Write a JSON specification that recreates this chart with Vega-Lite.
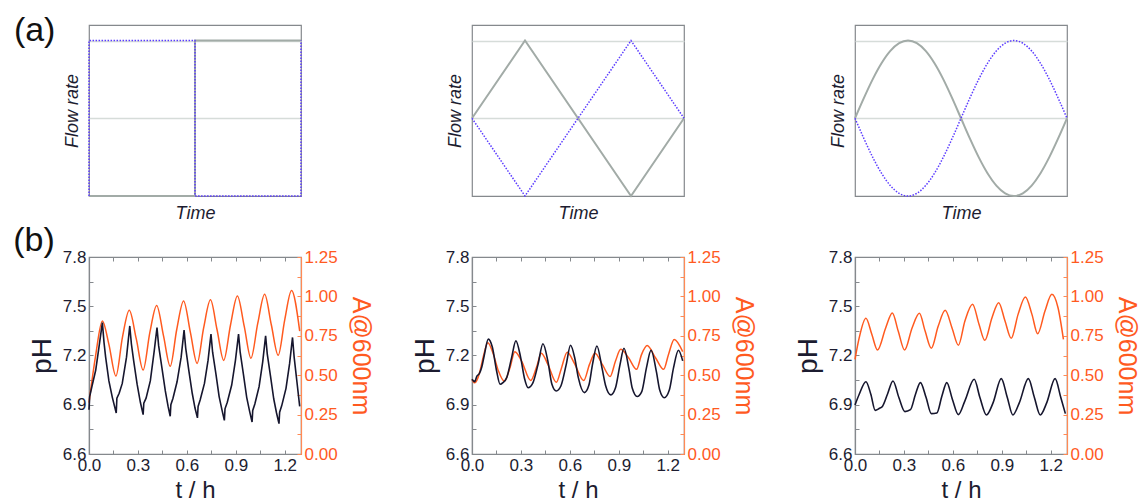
{
  "$schema": "https://vega.github.io/schema/vega-lite/v6.json",
  "background": "white",
  "padding": {"left": 12, "top": 13, "right": 2, "bottom": 0},
  "bounds": "flush",
  "columns": 3,
  "spacing": {"row": 61, "column": 171},
  "config": {
    "view": {"stroke": "#85898d", "strokeWidth": 1.2},
    "font": "Liberation Sans",
    "axis": {"labelFont": "Liberation Sans", "titleFont": "Liberation Sans", "titleFontWeight": "normal"}
  },
  "datasets": {
    "sqG": [{"i":0,"x":0,"y":-1},{"i":1,"x":0.5,"y":-1},{"i":2,"x":0.5,"y":1},{"i":3,"x":1,"y":1}],
    "sqB": [{"i":0,"x":0,"y":-1},{"i":1,"x":0,"y":1},{"i":2,"x":0.5,"y":1},{"i":3,"x":0.5,"y":-1},{"i":4,"x":1,"y":-1},{"i":5,"x":1,"y":1}],
    "triG": [{"i":0,"x":0,"y":0},{"i":1,"x":0.25,"y":1},{"i":2,"x":0.75,"y":-1},{"i":3,"x":1,"y":0}],
    "triB": [{"i":0,"x":0,"y":0},{"i":1,"x":0.25,"y":-1},{"i":2,"x":0.75,"y":1},{"i":3,"x":1,"y":0}],
    "sinG": [{"i":0,"x":0,"y":0},{"i":1,"x":0.0417,"y":0.259},{"i":2,"x":0.0833,"y":0.5},{"i":3,"x":0.125,"y":0.707},{"i":4,"x":0.1667,"y":0.866},{"i":5,"x":0.2083,"y":0.966},{"i":6,"x":0.25,"y":1},{"i":7,"x":0.2917,"y":0.966},{"i":8,"x":0.3333,"y":0.866},{"i":9,"x":0.375,"y":0.707},{"i":10,"x":0.4167,"y":0.5},{"i":11,"x":0.4583,"y":0.259},{"i":12,"x":0.5,"y":0},{"i":13,"x":0.5417,"y":-0.259},{"i":14,"x":0.5833,"y":-0.5},{"i":15,"x":0.625,"y":-0.707},{"i":16,"x":0.6667,"y":-0.866},{"i":17,"x":0.7083,"y":-0.966},{"i":18,"x":0.75,"y":-1},{"i":19,"x":0.7917,"y":-0.966},{"i":20,"x":0.8333,"y":-0.866},{"i":21,"x":0.875,"y":-0.707},{"i":22,"x":0.9167,"y":-0.5},{"i":23,"x":0.9583,"y":-0.259},{"i":24,"x":1,"y":0}],
    "sinB": [{"i":0,"x":0,"y":0},{"i":1,"x":0.0417,"y":-0.259},{"i":2,"x":0.0833,"y":-0.5},{"i":3,"x":0.125,"y":-0.707},{"i":4,"x":0.1667,"y":-0.866},{"i":5,"x":0.2083,"y":-0.966},{"i":6,"x":0.25,"y":-1},{"i":7,"x":0.2917,"y":-0.966},{"i":8,"x":0.3333,"y":-0.866},{"i":9,"x":0.375,"y":-0.707},{"i":10,"x":0.4167,"y":-0.5},{"i":11,"x":0.4583,"y":-0.259},{"i":12,"x":0.5,"y":0},{"i":13,"x":0.5417,"y":0.259},{"i":14,"x":0.5833,"y":0.5},{"i":15,"x":0.625,"y":0.707},{"i":16,"x":0.6667,"y":0.866},{"i":17,"x":0.7083,"y":0.966},{"i":18,"x":0.75,"y":1},{"i":19,"x":0.7917,"y":0.966},{"i":20,"x":0.8333,"y":0.866},{"i":21,"x":0.875,"y":0.707},{"i":22,"x":0.9167,"y":0.5},{"i":23,"x":0.9583,"y":0.259},{"i":24,"x":1,"y":0}],
    "b1pH": [{"t":0,"v":6.87},{"t":0.004,"v":6.95},{"t":0.02,"v":7.02},{"t":0.041,"v":7.11},{"t":0.061,"v":7.25},{"t":0.082,"v":7.4},{"t":0.092,"v":7.28},{"t":0.102,"v":7.19},{"t":0.122,"v":7.045},{"t":0.143,"v":6.945},{"t":0.167,"v":6.85},{"t":0.171,"v":6.94},{"t":0.185,"v":6.97},{"t":0.204,"v":7.03},{"t":0.23,"v":7.19},{"t":0.25,"v":7.38},{"t":0.26,"v":7.27},{"t":0.274,"v":7.167},{"t":0.295,"v":7.025},{"t":0.315,"v":6.915},{"t":0.332,"v":6.84},{"t":0.336,"v":6.91},{"t":0.35,"v":6.94},{"t":0.376,"v":7.045},{"t":0.4,"v":7.228},{"t":0.417,"v":7.37},{"t":0.427,"v":7.26},{"t":0.447,"v":7.126},{"t":0.468,"v":6.984},{"t":0.485,"v":6.89},{"t":0.498,"v":6.83},{"t":0.502,"v":6.9},{"t":0.515,"v":6.94},{"t":0.54,"v":7.04},{"t":0.565,"v":7.19},{"t":0.583,"v":7.355},{"t":0.593,"v":7.245},{"t":0.612,"v":7.11},{"t":0.633,"v":6.97},{"t":0.65,"v":6.88},{"t":0.665,"v":6.82},{"t":0.669,"v":6.89},{"t":0.682,"v":6.93},{"t":0.708,"v":7.03},{"t":0.73,"v":7.17},{"t":0.748,"v":7.33},{"t":0.758,"v":7.22},{"t":0.778,"v":7.09},{"t":0.798,"v":6.95},{"t":0.815,"v":6.87},{"t":0.83,"v":6.805},{"t":0.834,"v":6.875},{"t":0.848,"v":6.915},{"t":0.875,"v":7.02},{"t":0.898,"v":7.17},{"t":0.917,"v":7.33},{"t":0.927,"v":7.22},{"t":0.947,"v":7.085},{"t":0.967,"v":6.945},{"t":0.985,"v":6.86},{"t":1.0,"v":6.795},{"t":1.004,"v":6.865},{"t":1.017,"v":6.905},{"t":1.043,"v":7.01},{"t":1.065,"v":7.16},{"t":1.083,"v":7.32},{"t":1.093,"v":7.21},{"t":1.113,"v":7.075},{"t":1.133,"v":6.935},{"t":1.15,"v":6.85},{"t":1.165,"v":6.785},{"t":1.169,"v":6.855},{"t":1.182,"v":6.895},{"t":1.208,"v":7.0},{"t":1.23,"v":7.15},{"t":1.248,"v":7.31},{"t":1.258,"v":7.19},{"t":1.275,"v":7.04},{"t":1.292,"v":6.89}],
    "b1A": [{"t":0,"v":0.326},{"t":0.04,"v":0.62},{"t":0.082,"v":0.844},{"t":0.122,"v":0.696},{"t":0.165,"v":0.495},{"t":0.205,"v":0.74},{"t":0.247,"v":0.912},{"t":0.29,"v":0.73},{"t":0.332,"v":0.533},{"t":0.373,"v":0.77},{"t":0.415,"v":0.943},{"t":0.457,"v":0.75},{"t":0.498,"v":0.557},{"t":0.538,"v":0.79},{"t":0.58,"v":0.971},{"t":0.622,"v":0.77},{"t":0.663,"v":0.575},{"t":0.703,"v":0.8},{"t":0.745,"v":0.978},{"t":0.785,"v":0.79},{"t":0.826,"v":0.594},{"t":0.868,"v":0.82},{"t":0.91,"v":1.003},{"t":0.952,"v":0.81},{"t":0.993,"v":0.608},{"t":1.035,"v":0.83},{"t":1.077,"v":1.013},{"t":1.118,"v":0.82},{"t":1.16,"v":0.626},{"t":1.2,"v":0.85},{"t":1.242,"v":1.037},{"t":1.292,"v":0.78}],
    "b2pH": [{"t":0,"v":7.055},{"t":0.016,"v":7.04},{"t":0.03,"v":7.075},{"t":0.045,"v":7.09},{"t":0.06,"v":7.13},{"t":0.075,"v":7.2},{"t":0.1,"v":7.3},{"t":0.125,"v":7.25},{"t":0.15,"v":7.11},{"t":0.172,"v":7.025},{"t":0.19,"v":7.035},{"t":0.213,"v":7.065},{"t":0.243,"v":7.187},{"t":0.269,"v":7.289},{"t":0.298,"v":7.19},{"t":0.322,"v":7.06},{"t":0.344,"v":7.004},{"t":0.372,"v":7.03},{"t":0.405,"v":7.146},{"t":0.435,"v":7.272},{"t":0.465,"v":7.167},{"t":0.49,"v":7.025},{"t":0.517,"v":6.984},{"t":0.545,"v":7.014},{"t":0.578,"v":7.146},{"t":0.604,"v":7.262},{"t":0.63,"v":7.185},{"t":0.652,"v":7.065},{"t":0.689,"v":6.974},{"t":0.717,"v":7.02},{"t":0.739,"v":7.146},{"t":0.766,"v":7.258},{"t":0.798,"v":7.12},{"t":0.82,"v":7.014},{"t":0.851,"v":6.96},{"t":0.879,"v":7.0},{"t":0.908,"v":7.146},{"t":0.932,"v":7.244},{"t":0.962,"v":7.12},{"t":0.983,"v":7.0},{"t":1.013,"v":6.95},{"t":1.041,"v":6.98},{"t":1.07,"v":7.126},{"t":1.098,"v":7.232},{"t":1.131,"v":7.1},{"t":1.151,"v":6.99},{"t":1.179,"v":6.943},{"t":1.21,"v":6.99},{"t":1.236,"v":7.126},{"t":1.266,"v":7.232},{"t":1.292,"v":7.167}],
    "b2A": [{"t":0,"v":0.474},{"t":0.016,"v":0.452},{"t":0.035,"v":0.48},{"t":0.05,"v":0.53},{"t":0.07,"v":0.62},{"t":0.097,"v":0.706},{"t":0.131,"v":0.633},{"t":0.162,"v":0.527},{"t":0.198,"v":0.462},{"t":0.233,"v":0.548},{"t":0.263,"v":0.649},{"t":0.304,"v":0.59},{"t":0.36,"v":0.466},{"t":0.395,"v":0.548},{"t":0.425,"v":0.64},{"t":0.466,"v":0.567},{"t":0.517,"v":0.455},{"t":0.547,"v":0.54},{"t":0.584,"v":0.646},{"t":0.628,"v":0.575},{"t":0.685,"v":0.466},{"t":0.72,"v":0.567},{"t":0.754,"v":0.64},{"t":0.8,"v":0.567},{"t":0.847,"v":0.492},{"t":0.88,"v":0.59},{"t":0.912,"v":0.664},{"t":0.96,"v":0.611},{"t":1.009,"v":0.537},{"t":1.04,"v":0.632},{"t":1.074,"v":0.688},{"t":1.125,"v":0.611},{"t":1.175,"v":0.537},{"t":1.205,"v":0.632},{"t":1.24,"v":0.727},{"t":1.292,"v":0.65}],
    "b3pH": [{"t":0,"v":6.899},{"t":0.026,"v":6.964},{"t":0.067,"v":7.04},{"t":0.097,"v":6.964},{"t":0.124,"v":6.866},{"t":0.148,"v":6.877},{"t":0.168,"v":6.89},{"t":0.199,"v":6.964},{"t":0.233,"v":7.045},{"t":0.269,"v":6.944},{"t":0.306,"v":6.858},{"t":0.34,"v":6.87},{"t":0.371,"v":6.964},{"t":0.401,"v":7.035},{"t":0.436,"v":6.944},{"t":0.468,"v":6.846},{"t":0.502,"v":6.85},{"t":0.533,"v":6.953},{"t":0.563,"v":7.035},{"t":0.597,"v":6.934},{"t":0.634,"v":6.84},{"t":0.674,"v":6.924},{"t":0.731,"v":7.055},{"t":0.766,"v":6.944},{"t":0.806,"v":6.838},{"t":0.847,"v":6.913},{"t":0.897,"v":7.059},{"t":0.934,"v":6.944},{"t":0.968,"v":6.838},{"t":1.008,"v":6.913},{"t":1.063,"v":7.059},{"t":1.1,"v":6.944},{"t":1.136,"v":6.838},{"t":1.176,"v":6.913},{"t":1.227,"v":7.059},{"t":1.262,"v":6.944},{"t":1.29,"v":6.846}],
    "b3A": [{"t":0,"v":0.601},{"t":0.026,"v":0.738},{"t":0.067,"v":0.861},{"t":0.103,"v":0.76},{"t":0.138,"v":0.66},{"t":0.188,"v":0.8},{"t":0.229,"v":0.895},{"t":0.265,"v":0.78},{"t":0.304,"v":0.66},{"t":0.35,"v":0.8},{"t":0.395,"v":0.893},{"t":0.43,"v":0.78},{"t":0.468,"v":0.671},{"t":0.51,"v":0.81},{"t":0.553,"v":0.912},{"t":0.595,"v":0.8},{"t":0.634,"v":0.69},{"t":0.674,"v":0.844},{"t":0.721,"v":0.95},{"t":0.76,"v":0.825},{"t":0.796,"v":0.721},{"t":0.84,"v":0.865},{"t":0.881,"v":0.96},{"t":0.92,"v":0.844},{"t":0.958,"v":0.734},{"t":1.0,"v":0.886},{"t":1.045,"v":0.996},{"t":1.085,"v":0.886},{"t":1.12,"v":0.763},{"t":1.165,"v":0.907},{"t":1.207,"v":1.013},{"t":1.245,"v":0.928},{"t":1.278,"v":0.728}]
  },
  "concat": [
    {
      "width": 212, "height": 171,
      "title": {"text": "(a)", "orient": "left", "angle": 0, "anchor": "end", "frame": "group", "align": "right", "dy": 16, "offset": -34, "baseline": "alphabetic", "fontSize": 34, "fontWeight": "normal", "color": "#111111", "font": "Liberation Sans"},
      "encoding": {
        "x": {"field": "x", "type": "quantitative", "scale": {"domain": [0, 1], "nice": false, "zero": false}, "axis": {"title": "Time", "labels": false, "ticks": false, "domain": false, "grid": false, "titleFontSize": 18, "titleFontStyle": "italic", "titleColor": "#1c1c30", "titlePadding": 8}},
        "y": {"field": "y", "type": "quantitative", "scale": {"domain": [-1, 1.2], "nice": false, "zero": false}, "axis": {"title": "Flow rate", "labels": false, "ticks": false, "domain": false, "grid": true, "values": [0, 1], "gridColor": "#d6dcd9", "gridWidth": 1.5, "titleFontSize": 18, "titleFontStyle": "italic", "titleColor": "#1c1c30", "titlePadding": 8}},
        "order": {"field": "i", "type": "quantitative"}
      },
      "layer": [
        {"data": {"name": "sqG"}, "mark": {"type": "line", "color": "#a2aba7", "strokeWidth": 2}},
        {"data": {"name": "sqB"}, "mark": {"type": "line", "color": "#5b3cff", "strokeWidth": 1.5, "strokeDash": [1.5, 1.5]}}
      ]
    },
    {
      "width": 212, "height": 171,
      "encoding": {
        "x": {"field": "x", "type": "quantitative", "scale": {"domain": [0, 1], "nice": false, "zero": false}, "axis": {"title": "Time", "labels": false, "ticks": false, "domain": false, "grid": false, "titleFontSize": 18, "titleFontStyle": "italic", "titleColor": "#1c1c30", "titlePadding": 8}},
        "y": {"field": "y", "type": "quantitative", "scale": {"domain": [-1, 1.2], "nice": false, "zero": false}, "axis": {"title": "Flow rate", "labels": false, "ticks": false, "domain": false, "grid": true, "values": [0, 1], "gridColor": "#d6dcd9", "gridWidth": 1.5, "titleFontSize": 18, "titleFontStyle": "italic", "titleColor": "#1c1c30", "titlePadding": 8}},
        "order": {"field": "i", "type": "quantitative"}
      },
      "layer": [
        {"data": {"name": "triG"}, "mark": {"type": "line", "color": "#a2aba7", "strokeWidth": 2}},
        {"data": {"name": "triB"}, "mark": {"type": "line", "color": "#5b3cff", "strokeWidth": 1.5, "strokeDash": [1.5, 1.5]}}
      ]
    },
    {
      "width": 212, "height": 171,
      "encoding": {
        "x": {"field": "x", "type": "quantitative", "scale": {"domain": [0, 1], "nice": false, "zero": false}, "axis": {"title": "Time", "labels": false, "ticks": false, "domain": false, "grid": false, "titleFontSize": 18, "titleFontStyle": "italic", "titleColor": "#1c1c30", "titlePadding": 8}},
        "y": {"field": "y", "type": "quantitative", "scale": {"domain": [-1, 1.2], "nice": false, "zero": false}, "axis": {"title": "Flow rate", "labels": false, "ticks": false, "domain": false, "grid": true, "values": [0, 1], "gridColor": "#d6dcd9", "gridWidth": 1.5, "titleFontSize": 18, "titleFontStyle": "italic", "titleColor": "#1c1c30", "titlePadding": 8}},
        "order": {"field": "i", "type": "quantitative"}
      },
      "layer": [
        {"data": {"name": "sinG"}, "mark": {"type": "line", "color": "#a2aba7", "strokeWidth": 2, "interpolate": "monotone"}},
        {"data": {"name": "sinB"}, "mark": {"type": "line", "color": "#5b3cff", "strokeWidth": 1.5, "strokeDash": [1.5, 1.5], "interpolate": "monotone"}}
      ]
    },
    {
      "width": 212, "height": 197,
      "title": {"text": "(b)", "orient": "left", "angle": 0, "anchor": "end", "frame": "group", "align": "right", "dy": -6, "offset": -68, "baseline": "alphabetic", "fontSize": 34, "fontWeight": "normal", "color": "#111111", "font": "Liberation Sans"},
      "layer": [
        {"data": {"name": "b1A"}, "mark": {"type": "line", "color": "#ff5a1f", "strokeWidth": 1.5, "interpolate": "monotone"},
         "encoding": {
           "x": {"field": "t", "type": "quantitative", "scale": {"domain": [0, 1.3], "nice": false, "zero": false}, "axis": {"orient": "top", "labels": false, "title": null, "domain": false, "grid": false, "values": [0, 0.15, 0.3, 0.45, 0.6, 0.75, 0.9, 1.05, 1.2], "tickSize": -4, "tickColor": "#85898d"}},
           "y": {"field": "v", "type": "quantitative", "scale": {"domain": [0, 1.25], "nice": false, "zero": false}, "axis": {"orient": "right", "title": "A@600nm", "values": [0, 0.125, 0.25, 0.375, 0.5, 0.625, 0.75, 0.875, 1, 1.125, 1.25], "labelExpr": "round(datum.value*1000) % 250 == 0 ? format(datum.value, '.2f') : ''", "labelOverlap": false, "labelFlush": false, "tickSize": -4, "tickColor": "#ff8a55", "domainColor": "#ff8a55", "domainWidth": 1.2, "labelColor": "#ff5a1f", "labelFontSize": 17, "labelPadding": 7, "titleColor": "#ff5a1f", "titleFontSize": 25, "titlePadding": 10, "grid": false}}
         }},
        {"data": {"name": "b1pH"}, "mark": {"type": "line", "color": "#16162e", "strokeWidth": 1.6},
         "encoding": {
           "x": {"field": "t", "type": "quantitative", "scale": {"domain": [0, 1.3], "nice": false, "zero": false}, "axis": {"orient": "bottom", "title": "t / h", "values": [0, 0.15, 0.3, 0.45, 0.6, 0.75, 0.9, 1.05, 1.2], "labelExpr": "round(datum.value*100) % 30 == 0 ? format(datum.value, '.1f') : ''", "labelOverlap": false, "labelFlush": false, "tickSize": -4, "tickColor": "#85898d", "domainColor": "#85898d", "domainWidth": 1.2, "labelColor": "#1c1c30", "labelFontSize": 17, "labelPadding": 7, "titleColor": "#1c1c30", "titleFontSize": 24, "titlePadding": 5, "grid": false}},
           "y": {"field": "v", "type": "quantitative", "scale": {"domain": [6.6, 7.8], "nice": false, "zero": false}, "axis": {"orient": "left", "title": "pH", "values": [6.6, 6.75, 6.9, 7.05, 7.2, 7.35, 7.5, 7.65, 7.8], "labelExpr": "round(datum.value*100) % 30 == 0 ? format(datum.value, '.1f') : ''", "labelOverlap": false, "labelFlush": false, "tickSize": -4, "tickColor": "#85898d", "domainColor": "#85898d", "domainWidth": 1.2, "labelColor": "#1c1c30", "labelFontSize": 17, "labelPadding": 7, "titleColor": "#1c1c30", "titleFontSize": 28, "titlePadding": 6, "grid": false}}
         }}
      ],
      "resolve": {"scale": {"y": "independent"}, "axis": {"x": "independent"}}
    },
    {
      "width": 212, "height": 197,
      "layer": [
        {"data": {"name": "b2A"}, "mark": {"type": "line", "color": "#ff5a1f", "strokeWidth": 1.5, "interpolate": "monotone"},
         "encoding": {
           "x": {"field": "t", "type": "quantitative", "scale": {"domain": [0, 1.3], "nice": false, "zero": false}, "axis": {"orient": "top", "labels": false, "title": null, "domain": false, "grid": false, "values": [0, 0.15, 0.3, 0.45, 0.6, 0.75, 0.9, 1.05, 1.2], "tickSize": -4, "tickColor": "#85898d"}},
           "y": {"field": "v", "type": "quantitative", "scale": {"domain": [0, 1.25], "nice": false, "zero": false}, "axis": {"orient": "right", "title": "A@600nm", "values": [0, 0.125, 0.25, 0.375, 0.5, 0.625, 0.75, 0.875, 1, 1.125, 1.25], "labelExpr": "round(datum.value*1000) % 250 == 0 ? format(datum.value, '.2f') : ''", "labelOverlap": false, "labelFlush": false, "tickSize": -4, "tickColor": "#ff8a55", "domainColor": "#ff8a55", "domainWidth": 1.2, "labelColor": "#ff5a1f", "labelFontSize": 17, "labelPadding": 7, "titleColor": "#ff5a1f", "titleFontSize": 25, "titlePadding": 10, "grid": false}}
         }},
        {"data": {"name": "b2pH"}, "mark": {"type": "line", "color": "#16162e", "strokeWidth": 1.6, "interpolate": "monotone"},
         "encoding": {
           "x": {"field": "t", "type": "quantitative", "scale": {"domain": [0, 1.3], "nice": false, "zero": false}, "axis": {"orient": "bottom", "title": "t / h", "values": [0, 0.15, 0.3, 0.45, 0.6, 0.75, 0.9, 1.05, 1.2], "labelExpr": "round(datum.value*100) % 30 == 0 ? format(datum.value, '.1f') : ''", "labelOverlap": false, "labelFlush": false, "tickSize": -4, "tickColor": "#85898d", "domainColor": "#85898d", "domainWidth": 1.2, "labelColor": "#1c1c30", "labelFontSize": 17, "labelPadding": 7, "titleColor": "#1c1c30", "titleFontSize": 24, "titlePadding": 5, "grid": false}},
           "y": {"field": "v", "type": "quantitative", "scale": {"domain": [6.6, 7.8], "nice": false, "zero": false}, "axis": {"orient": "left", "title": "pH", "values": [6.6, 6.75, 6.9, 7.05, 7.2, 7.35, 7.5, 7.65, 7.8], "labelExpr": "round(datum.value*100) % 30 == 0 ? format(datum.value, '.1f') : ''", "labelOverlap": false, "labelFlush": false, "tickSize": -4, "tickColor": "#85898d", "domainColor": "#85898d", "domainWidth": 1.2, "labelColor": "#1c1c30", "labelFontSize": 17, "labelPadding": 7, "titleColor": "#1c1c30", "titleFontSize": 28, "titlePadding": 6, "grid": false}}
         }}
      ],
      "resolve": {"scale": {"y": "independent"}, "axis": {"x": "independent"}}
    },
    {
      "width": 212, "height": 197,
      "layer": [
        {"data": {"name": "b3A"}, "mark": {"type": "line", "color": "#ff5a1f", "strokeWidth": 1.5, "interpolate": "monotone"},
         "encoding": {
           "x": {"field": "t", "type": "quantitative", "scale": {"domain": [0, 1.3], "nice": false, "zero": false}, "axis": {"orient": "top", "labels": false, "title": null, "domain": false, "grid": false, "values": [0, 0.15, 0.3, 0.45, 0.6, 0.75, 0.9, 1.05, 1.2], "tickSize": -4, "tickColor": "#85898d"}},
           "y": {"field": "v", "type": "quantitative", "scale": {"domain": [0, 1.25], "nice": false, "zero": false}, "axis": {"orient": "right", "title": "A@600nm", "values": [0, 0.125, 0.25, 0.375, 0.5, 0.625, 0.75, 0.875, 1, 1.125, 1.25], "labelExpr": "round(datum.value*1000) % 250 == 0 ? format(datum.value, '.2f') : ''", "labelOverlap": false, "labelFlush": false, "tickSize": -4, "tickColor": "#ff8a55", "domainColor": "#ff8a55", "domainWidth": 1.2, "labelColor": "#ff5a1f", "labelFontSize": 17, "labelPadding": 7, "titleColor": "#ff5a1f", "titleFontSize": 25, "titlePadding": 10, "grid": false}}
         }},
        {"data": {"name": "b3pH"}, "mark": {"type": "line", "color": "#16162e", "strokeWidth": 1.6, "interpolate": "monotone"},
         "encoding": {
           "x": {"field": "t", "type": "quantitative", "scale": {"domain": [0, 1.3], "nice": false, "zero": false}, "axis": {"orient": "bottom", "title": "t / h", "values": [0, 0.15, 0.3, 0.45, 0.6, 0.75, 0.9, 1.05, 1.2], "labelExpr": "round(datum.value*100) % 30 == 0 ? format(datum.value, '.1f') : ''", "labelOverlap": false, "labelFlush": false, "tickSize": -4, "tickColor": "#85898d", "domainColor": "#85898d", "domainWidth": 1.2, "labelColor": "#1c1c30", "labelFontSize": 17, "labelPadding": 7, "titleColor": "#1c1c30", "titleFontSize": 24, "titlePadding": 5, "grid": false}},
           "y": {"field": "v", "type": "quantitative", "scale": {"domain": [6.6, 7.8], "nice": false, "zero": false}, "axis": {"orient": "left", "title": "pH", "values": [6.6, 6.75, 6.9, 7.05, 7.2, 7.35, 7.5, 7.65, 7.8], "labelExpr": "round(datum.value*100) % 30 == 0 ? format(datum.value, '.1f') : ''", "labelOverlap": false, "labelFlush": false, "tickSize": -4, "tickColor": "#85898d", "domainColor": "#85898d", "domainWidth": 1.2, "labelColor": "#1c1c30", "labelFontSize": 17, "labelPadding": 7, "titleColor": "#1c1c30", "titleFontSize": 28, "titlePadding": 6, "grid": false}}
         }}
      ],
      "resolve": {"scale": {"y": "independent"}, "axis": {"x": "independent"}}
    }
  ]
}
